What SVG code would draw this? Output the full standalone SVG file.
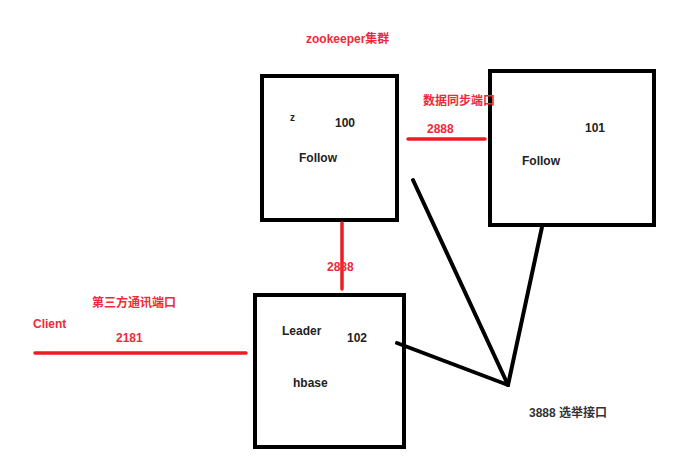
<svg xmlns="http://www.w3.org/2000/svg" width="698" height="468" viewBox="0 0 698 468">
<style>
.box{fill:none;stroke:#000;stroke-width:4}
.red{stroke:#ec1c24;stroke-width:3.5;fill:none;stroke-linecap:round}
.blk{stroke:#000;stroke-width:4;fill:none;stroke-linecap:round}
text{font-family:"Liberation Sans","Noto Sans CJK SC",sans-serif;font-weight:bold;font-size:12px}
.t{fill:#222}
.r{fill:#ee2a3a}
.g{fill:#333;font-weight:normal}
</style>
<rect width="698" height="468" fill="#fff"/>
<text class="r" x="306" y="43">zookeeper集群</text>
<g id="node100">
<rect class="box" x="262" y="76" width="135" height="144"/>
<text class="t" x="290" y="121" style="font-size:10px">z</text>
<text class="t" x="335" y="127">100</text>
<text class="t" x="299" y="162">Follow</text>
</g>
<g id="node101">
<rect class="box" x="490" y="71" width="164" height="154"/>
<text class="t" x="585" y="132">101</text>
<text class="t" x="522" y="165">Follow</text>
</g>
<g id="node102">
<rect class="box" x="255" y="295" width="149" height="152"/>
<text class="t" x="282" y="335">Leader</text>
<text class="t" x="347" y="342">102</text>
<text class="t" x="293" y="387">hbase</text>
</g>
<g id="client">
<text class="r" x="33" y="328">Client</text>
</g>
<g id="connectors">
<line class="red" x1="408" y1="139" x2="485" y2="139"/>
<line class="red" x1="342" y1="223" x2="342" y2="289"/>
<line class="red" x1="35" y1="353" x2="246" y2="353"/>
<line class="blk" x1="413" y1="180" x2="508" y2="385"/>
<line class="blk" x1="542" y1="227" x2="508" y2="385"/>
<line class="blk" x1="397" y1="343" x2="508" y2="385"/>
<text class="r" x="423" y="105">数据同步端口</text>
<text class="r" x="427" y="133">2888</text>
<text class="r" x="327" y="271">2888</text>
<text class="r" x="92" y="307">第三方通讯端口</text>
<text class="r" x="116" y="342">2181</text>
<text class="g" x="529" y="417" style="font-weight:bold">3888 选举接口</text>
</g>
</svg>
